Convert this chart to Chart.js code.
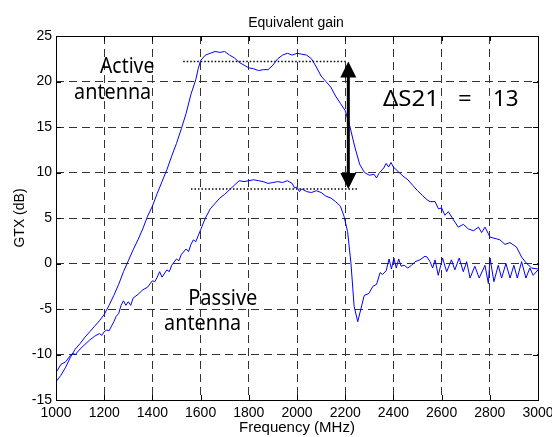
<!DOCTYPE html>
<html>
<head>
<meta charset="utf-8">
<script src="https://cdn.jsdelivr.net/npm/chart.js@4/dist/chart.umd.min.js"></script>
<style>
  html, body { margin: 0; background: #fff; }
  #wrap { width: 552px; height: 437px; }
</style>
</head>
<body>
<div id="wrap"><canvas id="chart" width="552" height="437"></canvas></div>
<script>
// Equivalent gain, active vs passive antenna.

const activeFreq = [
  1000, 1020, 1040, 1060, 1080, 1100, 1120, 1140, 1160, 1180,
  1200, 1220, 1240, 1260, 1280, 1300, 1320, 1340, 1360, 1380,
  1400, 1420, 1440, 1460, 1480, 1500, 1520, 1540, 1560, 1580,
  1590, 1600, 1620, 1640, 1660, 1680, 1700, 1720, 1740, 1760,
  1780, 1800, 1820, 1840, 1860, 1880, 1900, 1920, 1940, 1960,
  1980, 2000, 2020, 2040, 2060, 2080, 2100, 2120, 2140, 2160,
  2180, 2200, 2220, 2240, 2260, 2280, 2300, 2320, 2330, 2340,
  2360, 2370, 2380, 2390, 2400, 2420, 2440, 2460, 2480, 2500,
  2520, 2540, 2552, 2573, 2587, 2600, 2614, 2628, 2649, 2669,
  2690, 2711, 2732, 2753, 2766, 2780, 2801, 2829, 2842, 2863,
  2884, 2911, 2932, 2953, 2974, 3000
];
const activeGain = [
  -13.0, -12.3, -11.4, -10.3, -9.4, -8.8, -8.1, -7.5, -6.9, -6.3,
  -5.6, -4.6, -3.5, -2.3, -0.9, 0.3, 1.5, 2.6, 3.8, 5.2,
  6.3, 7.7, 9.0, 10.3, 11.8, 13.2, 14.8, 16.5, 18.6, 20.2,
  21.4, 22.3, 22.9, 23.1, 23.3, 23.2, 23.3, 22.9, 22.6, 22.1,
  21.8, 21.5, 21.4, 21.2, 21.3, 21.3, 21.8, 22.5, 22.9, 23.1,
  22.9, 23.1, 23.0, 22.9, 22.5, 21.6, 20.6, 20.0, 19.4, 18.4,
  17.6, 16.8, 15.0, 12.8, 10.9, 10.0, 9.7, 9.8, 9.4, 9.9,
  10.5, 11.0, 10.6, 11.1, 10.6, 10.1, 9.6, 9.2, 8.6, 8.0,
  7.5, 7.0, 6.8, 6.8, 6.0, 6.1, 5.3, 5.7, 4.8, 4.0,
  4.3, 3.8, 3.6, 4.0, 3.4, 4.0, 2.9, 2.7, 2.6, 2.1,
  2.3, 1.8, 0.7, 0.0, -0.5, -0.6
];

const passiveFreq = [
  1000, 1020, 1040, 1060, 1070, 1080, 1100, 1120, 1140, 1160,
  1180, 1190, 1200, 1210, 1220, 1240, 1250, 1260, 1270, 1280,
  1290, 1300, 1310, 1320, 1340, 1360, 1380, 1400, 1410, 1420,
  1430, 1440, 1460, 1470, 1480, 1500, 1510, 1520, 1540, 1550,
  1560, 1570, 1580, 1600, 1620, 1640, 1660, 1680, 1700, 1720,
  1740, 1760, 1780, 1800, 1820, 1840, 1860, 1880, 1900, 1920,
  1940, 1960, 1980, 1990, 2000, 2010, 2020, 2040, 2060, 2080,
  2100, 2120, 2140, 2160, 2180, 2195, 2210, 2224, 2237, 2252,
  2266, 2279, 2298, 2315, 2330, 2345, 2355, 2370, 2382, 2392,
  2402, 2412, 2422, 2432, 2445, 2460, 2475, 2490, 2510, 2531,
  2540, 2552, 2563, 2573, 2586, 2604, 2621, 2641, 2655, 2673,
  2690, 2704, 2718, 2738, 2756, 2780, 2794, 2801, 2817, 2835,
  2849, 2867, 2884, 2900, 2914, 2932, 2950, 2966, 2980, 3000
];
const passiveGain = [
  -12.0, -11.1, -10.8, -10.1, -9.9, -10.0, -9.4, -8.9, -8.4, -8.0,
  -7.7, -7.9, -7.5, -7.3, -7.4, -6.4, -5.8, -5.5, -4.6, -4.1,
  -4.6, -4.2, -4.6, -3.8, -3.4, -2.9, -2.6, -1.9, -2.0, -1.5,
  -0.9, -1.5, -0.7, -0.9, -0.2, 0.5, 0.3, 1.0, 1.6, 1.3,
  2.1, 2.6, 2.4, 3.7, 5.0, 6.0, 6.6, 7.2, 7.6, 8.1,
  8.6, 9.1, 9.0, 9.1, 9.2, 9.1, 9.0, 8.8, 8.9, 9.0,
  8.9, 9.1, 8.8, 8.3, 8.4, 7.9, 8.2, 7.9, 7.8, 8.0,
  7.8, 7.4, 7.2, 6.8, 6.3, 5.2, 3.5, 0.0, -4.7, -6.4,
  -4.9, -3.5, -3.3, -2.5, -2.3, -1.0, -1.2, -0.8, 0.5, -0.6,
  0.6, -0.5, 0.5, -0.3, -0.2, -0.5, -0.2, 0.2, 0.4, 0.8,
  0.7, 0.2, -0.5, 0.4, -1.3, 0.6, -0.9, 0.4, -0.7, 0.6,
  -0.9, 0.2, -1.6, -0.3, -1.6, -0.2, -2.2, 0.6, -2.0, -0.2,
  -1.6, 0.0, -1.6, -0.2, -1.6, 0.2, -1.6, -0.5, -1.3, -0.7
];

// dotted reference levels and the ΔS21 arrow
const refActiveFreq = [1528, 2210];
const refActiveGain = [22.2, 22.2];
const refPassiveFreq = [1560, 2252];
const refPassiveGain = [8.2, 8.2];
const arrowFreq = 2213;
const arrowGain = [8.2, 22.2];

const xTicks = { min: 1000, max: 3000, step: 200 };
const yTicks = { min: -15, max: 25, step: 5 };

const zip = (xs, ys) => xs.map((x, i) => ({ x, y: ys[i] }));
const FONT = "'Liberation Sans', Arial, sans-serif";

// text squeezed so its ink spans x0..x1
function fitText(ctx, text, x0, x1, baseline, size) {
  ctx.save();
  ctx.font = `${size}px 'Noto Sans', sans-serif`;
  ctx.textBaseline = 'alphabetic';
  ctx.textAlign = 'left';
  const m = ctx.measureText(text);
  const ink = m.actualBoundingBoxLeft + m.actualBoundingBoxRight;
  const sx = (x1 - x0) / ink;
  ctx.translate(x0, baseline);
  ctx.scale(sx, 1);
  ctx.fillText(text, m.actualBoundingBoxLeft, 0);
  ctx.restore();
}

const decor = {
  id: 'decor',
  afterDraw(chart) {
    const { ctx, chartArea: a, scales: { x, y } } = chart;
    ctx.save();
    ctx.strokeStyle = '#000';
    ctx.lineWidth = 1;
    ctx.setLineDash([]);
    ctx.strokeRect(Math.round(a.left) + 0.5, Math.round(a.top) + 0.5,
                   Math.round(a.right - a.left), Math.round(a.bottom - a.top));
    // inward tick marks on all four sides
    ctx.beginPath();
    for (let v = xTicks.min; v <= xTicks.max; v += xTicks.step) {
      const px = Math.round(x.getPixelForValue(v)) + 0.5;
      ctx.moveTo(px, a.bottom); ctx.lineTo(px, a.bottom - 5);
      ctx.moveTo(px, a.top); ctx.lineTo(px, a.top + 5);
    }
    for (let v = yTicks.min; v <= yTicks.max; v += yTicks.step) {
      const py = Math.round(y.getPixelForValue(v)) + 0.5;
      ctx.moveTo(a.left, py); ctx.lineTo(a.left + 5, py);
      ctx.moveTo(a.right, py); ctx.lineTo(a.right - 5, py);
    }
    ctx.stroke();

    // double arrow
    const ax = x.getPixelForValue(arrowFreq);
    const yLo = y.getPixelForValue(arrowGain[0]);
    const yHi = y.getPixelForValue(arrowGain[1]);
    const hw = 8, hh = 16;
    ctx.lineWidth = 3;
    ctx.beginPath();
    ctx.moveTo(ax, yHi + hh - 2); ctx.lineTo(ax, yLo - hh + 2);
    ctx.stroke();
    ctx.fillStyle = '#000';
    ctx.beginPath();
    ctx.moveTo(ax, yHi); ctx.lineTo(ax - hw, yHi + hh); ctx.lineTo(ax + hw, yHi + hh);
    ctx.closePath(); ctx.fill();
    ctx.beginPath();
    ctx.moveTo(ax, yLo); ctx.lineTo(ax - hw, yLo - hh); ctx.lineTo(ax + hw, yLo - hh);
    ctx.closePath(); ctx.fill();

    // title
    ctx.font = `14px ${FONT}`;
    ctx.textAlign = 'center';
    ctx.textBaseline = 'alphabetic';
    ctx.fillText('Equivalent gain', 296, 27);

    // annotations
    fitText(ctx, 'Active', 100, 154, 73, 22);
    fitText(ctx, 'antenna', 75, 150, 99, 22);
    fitText(ctx, 'Passive', 190, 257, 305, 22);
    fitText(ctx, 'antenna', 165, 240, 330, 22);
    fitText(ctx, 'ΔS21', 383, 434, 106, 22);
    fitText(ctx, '=', 459, 471, 106, 22);
    fitText(ctx, '13', 494, 518, 106, 22);
    ctx.restore();
  }
};

const gridOpts = { color: '#333', lineWidth: 1, drawTicks: false };

new Chart(document.getElementById('chart'), {
  type: 'line',
  data: {
    datasets: [
      { data: zip(activeFreq, activeGain), borderColor: '#0000ff', borderWidth: 1 },
      { data: zip(passiveFreq, passiveGain), borderColor: '#0000ff', borderWidth: 1 },
      { data: zip(refActiveFreq, refActiveGain), borderColor: '#000', borderWidth: 1.5, borderDash: [1.5, 2] },
      { data: zip(refPassiveFreq, refPassiveGain), borderColor: '#000', borderWidth: 1.5, borderDash: [1.5, 2] },
    ],
  },
  options: {
    responsive: false,
    animation: false,
    events: [],
    elements: { point: { radius: 0 }, line: { tension: 0 } },
    layout: { padding: { top: 36, right: 14, left: 0, bottom: 0 } },
    plugins: { legend: { display: false }, tooltip: { enabled: false } },
    scales: {
      x: {
        type: 'linear',
        min: xTicks.min, max: xTicks.max,
        ticks: { stepSize: xTicks.step, color: '#000', padding: 5, maxRotation: 0,
                 font: { family: FONT, size: 14 }, callback: v => String(v) },
        grid: gridOpts,
        border: { display: false, dash: [8, 5] },
        title: { display: true, text: 'Frequency (MHz)', color: '#000',
                 font: { family: FONT, size: 15 }, padding: 0 },
        afterFit(s) { s.height = 37; s.paddingRight = 0; },
      },
      y: {
        type: 'linear',
        min: yTicks.min, max: yTicks.max,
        ticks: { stepSize: yTicks.step, color: '#000', padding: 4,
                 font: { family: FONT, size: 14 } },
        grid: gridOpts,
        border: { display: false, dash: [8, 5] },
        title: { display: true, text: 'GTX (dB)', color: '#000',
                 font: { family: FONT, size: 14 }, padding: { top: 12, bottom: 0 } },
        afterFit(s) { s.width = 56; },
      },
    },
  },
  plugins: [decor],
});
</script>
</body>
</html>
